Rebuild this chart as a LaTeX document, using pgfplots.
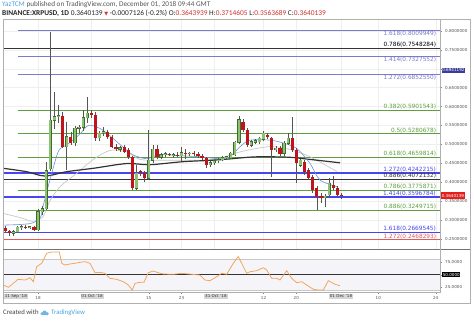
\documentclass[border=0pt]{standalone}
\usepackage{pgfplots}
\pgfplotsset{compat=1.18}
\usepackage{pgfplotstable}
\usepackage{fontspec}
\setmainfont{DejaVu Sans}
\newfontfamily\carlito{Carlito}
\newfontfamily\dejavu{DejaVu Sans}

\definecolor{fibpurple}{HTML}{7B7BCB}
\definecolor{fibgreen}{HTML}{5E9E40}
\definecolor{fibblue}{HTML}{4646F0}
\definecolor{fibred}{HTML}{E05A5A}
\definecolor{fibdark}{HTML}{333333}
\definecolor{upfill}{HTML}{8DC06F}
\definecolor{upline}{HTML}{3E6B2E}
\definecolor{downfill}{HTML}{BE151C}
\definecolor{wick}{HTML}{555555}
\definecolor{tvblue}{HTML}{4DA3DD}
\definecolor{rsiorange}{HTML}{F2A255}
\definecolor{frame}{HTML}{B0B0B0}
\definecolor{txtgrey}{HTML}{555555}
\definecolor{gridc}{HTML}{EFEFEF}
\definecolor{tickc}{HTML}{888888}
\definecolor{maBlue}{HTML}{6E93D6}
\definecolor{maGrey}{HTML}{C8C8C8}
\definecolor{boxgrey}{HTML}{D6D6D6}
\definecolor{pbox}{HTML}{3B3B9B}
\definecolor{rbox}{HTML}{E3211C}
\definecolor{band}{HTML}{F5F5F9}
\definecolor{hdred}{HTML}{D0312D}

\newcommand\fibfont{\fontsize{5.8}{6}\selectfont}
\newcommand\tickfont{\fontsize{4.1}{5}\selectfont}

\pgfplotstableread{
d O H L C
12 .264 .272 .257 .269
13 .269 .284 .265 .280
14 .280 .286 .274 .282
16 .280 .285 .275 .282
18 .274 .330 .270 .321
19 .321 .336 .312 .330
20 .330 .452 .325 .430
21 .435 .798 .430 .564
22 .564 .639 .540 .573
23 .573 .604 .556 .576
25 .494 .560 .432 .520
27 .504 .548 .496 .542
28 .542 .550 .530 .545
29 .545 .590 .535 .570
30 .570 .626 .556 .583
33 .517 .536 .508 .530
34 .530 .546 .522 .533
38 .487 .496 .480 .491
42 .384 .445 .378 .424
45 .410 .538 .405 .458
46 .458 .498 .450 .487
48 .466 .476 .460 .472
49 .472 .480 .466 .475
51 .471 .478 .465 .473
53 .470 .492 .455 .478
55 .475 .480 .468 .476
60 .446 .455 .440 .451
61 .451 .460 .446 .456
62 .456 .463 .450 .459
63 .459 .468 .455 .464
64 .464 .470 .458 .467
65 .463 .480 .460 .476
66 .472 .510 .468 .505
67 .505 .575 .500 .565
70 .498 .512 .492 .507
71 .505 .515 .500 .510
72 .507 .520 .502 .516
73 .513 .534 .508 .529
76 .485 .496 .480 .490
78 .476 .508 .470 .503
79 .503 .531 .498 .516
82 .445 .462 .440 .458
88 .358 .368 .335 .362
89 .366 .410 .360 .397
}\upc

\pgfplotstableread{
d O H L C
10 .279 .283 .266 .270
11 .270 .274 .258 .264
15 .282 .287 .276 .280
17 .282 .284 .270 .274
24 .576 .586 .490 .494
26 .520 .532 .498 .504
31 .583 .590 .570 .578
32 .578 .585 .510 .517
35 .533 .538 .515 .520
36 .520 .525 .490 .494
37 .494 .500 .482 .487
39 .494 .498 .476 .480
40 .485 .490 .462 .467
41 .467 .470 .380 .384
43 .428 .432 .415 .423
44 .425 .428 .401 .410
47 .487 .498 .460 .466
50 .475 .478 .468 .471
52 .473 .480 .467 .470
54 .478 .488 .462 .475
56 .476 .482 .470 .474
57 .474 .479 .465 .468
58 .468 .475 .458 .463
59 .463 .466 .437 .446
68 .560 .566 .533 .538
69 .538 .542 .494 .498
74 .525 .530 .515 .519
75 .516 .520 .414 .485
77 .490 .495 .470 .474
80 .516 .573 .480 .485
81 .485 .490 .398 .450
83 .454 .458 .420 .427
84 .432 .436 .405 .410
85 .414 .418 .370 .379
86 .383 .390 .326 .361
87 .362 .370 .345 .358
90 .392 .415 .380 .384
91 .383 .390 .362 .366
92 .3644 .3715 .3564 .3640
}\downc

\begin{document}
\begin{tikzpicture}
\useasboundingbox (0pt,0pt) rectangle (474pt,321pt);
\fill[white] (0pt,0pt) rectangle (474pt,321pt);

% ---------------- main price panel ----------------
\begin{axis}[name=main, at={(3pt,72pt)}, anchor=south west, scale only axis,
  width=437pt, height=230pt,
  xmin=9.46, xmax=116.05, ymin=0.2228, ymax=0.8318, clip=false,
  axis line style={draw=frame, line width=0.5pt},
  xtick={18,31,45,53,61,73,81,92,101,115}, xticklabels={}, xtick style={draw=none},
  xmajorgrids, ymajorgrids, grid style={draw=gridc, line width=0.4pt},
  ytick={0.25,0.30,0.35,0.40,0.45,0.50,0.55,0.60,0.65,0.70,0.75,0.80},
  yticklabels={0.2500000,0.3000000,0.3500000,0.4000000,0.4500000,0.5000000,0.5500000,0.6000000,0.6500000,,0.7500000,0.8000000},
  ytick pos=right, yticklabel pos=right, tick align=outside, major tick length=2pt,
  ytick style={draw=tickc, line width=0.4pt},
  yticklabel style={font=\tickfont, text=txtgrey, inner sep=0.5pt, xshift=2.5pt},
]
% Fibonacci levels
\addplot[fibpurple, line width=0.8pt, forget plot] coordinates {(13.12,0.8009949) (116.05,0.8009949)};
\addplot[fibdark, line width=0.8pt, forget plot] coordinates {(9.46,0.7548284) (116.05,0.7548284)};
\addplot[fibpurple, line width=0.8pt, forget plot] coordinates {(13.12,0.7327552) (116.05,0.7327552)};
\addplot[fibpurple, line width=0.8pt, forget plot] coordinates {(13.12,0.6852550) (116.05,0.6852550)};
\addplot[fibgreen, line width=0.8pt, forget plot] coordinates {(13.12,0.5901543) (116.05,0.5901543)};
\addplot[fibgreen, line width=0.8pt, forget plot] coordinates {(13.12,0.5280678) (116.05,0.5280678)};
\addplot[fibgreen, line width=0.8pt, forget plot] coordinates {(13.12,0.4659814) (116.05,0.4659814)};
\addplot[fibblue, line width=1.3pt, forget plot] coordinates {(9.46,0.4242215) (116.05,0.4242215)};
\addplot[fibdark, line width=0.8pt, forget plot] coordinates {(9.46,0.4072132) (116.05,0.4072132)};
\addplot[fibgreen, line width=0.8pt, forget plot] coordinates {(13.12,0.3775871) (116.05,0.3775871)};
\addplot[fibblue, line width=1.7pt, forget plot] coordinates {(9.46,0.3596784) (116.05,0.3596784)};
\addplot[fibgreen, line width=0.8pt, forget plot] coordinates {(13.12,0.3249715) (116.05,0.3249715)};
\addplot[fibblue, line width=1.3pt, forget plot] coordinates {(9.46,0.2669545) (116.05,0.2669545)};
\addplot[fibred, line width=0.9pt, forget plot] coordinates {(9.46,0.2468293) (116.05,0.2468293)};

\node[anchor=north east, inner sep=0.6pt, font=\fibfont, text=fibpurple] at (axis cs:115.3,0.8009949) {1.618(0.8009949)};
\node[anchor=south east, inner sep=0.6pt, font=\fibfont, text=black] at (axis cs:115.3,0.7548284) {0.786(0.7548284)};
\node[anchor=north east, inner sep=0.6pt, font=\fibfont, text=fibpurple] at (axis cs:115.3,0.7327552) {1.414(0.7327552)};
\node[anchor=north east, inner sep=0.6pt, font=\fibfont, text=fibpurple] at (axis cs:115.3,0.6852550) {1.272(0.6852550)};
\node[anchor=south east, inner sep=0.6pt, font=\fibfont, text=fibgreen] at (axis cs:115.3,0.5901543) {0.382(0.5901543)};
\node[anchor=south east, inner sep=0.6pt, font=\fibfont, text=fibgreen] at (axis cs:115.3,0.5280678) {0.5(0.5280678)};
\node[anchor=south east, inner sep=0.6pt, font=\fibfont, text=fibgreen] at (axis cs:115.3,0.4659814) {0.618(0.4659814)};
\node[anchor=south east, inner sep=0.8pt, font=\fibfont, text=fibblue] at (axis cs:115.3,0.4242215) {1.272(0.4242215)};
\node[anchor=south east, inner sep=0.6pt, font=\fibfont, text=fibdark] at (axis cs:115.3,0.4072132) {0.886(0.4072132)};
\node[anchor=south east, inner sep=0.6pt, font=\fibfont, text=fibgreen] at (axis cs:115.3,0.3775871) {0.786(0.3775871)};
\node[anchor=south east, inner sep=1pt, font=\fibfont, text=fibblue] at (axis cs:115.3,0.3596784) {1.414(0.3596784)};
\node[anchor=south east, inner sep=0.6pt, font=\fibfont, text=fibgreen] at (axis cs:115.3,0.3249715) {0.886(0.3249715)};
\node[anchor=south east, inner sep=0.8pt, font=\fibfont, text=fibblue] at (axis cs:115.3,0.2669545) {1.618(0.2669545)};
\node[anchor=south east, inner sep=0.6pt, font=\fibfont, text=fibred] at (axis cs:115.3,0.2468293) {1.272(0.2468293)};

% moving averages
\addplot[maGrey, line width=0.7pt, smooth, forget plot] coordinates {
(9.5,.317) (13.6,.306) (16.8,.296) (19.2,.308) (20.9,.350) (23.4,.388) (27.4,.423) (31.5,.460) (35.6,.484) (39.6,.480) (42.9,.460) (47.8,.458) (57.5,.458) (62,.462) (67.3,.480) (74.6,.494) (79.5,.486) (84.3,.467) (90.9,.428)};
\addplot[fibdark, line width=1.2pt, smooth, forget plot] coordinates {
(9.5,.4365) (15.2,.4275) (19.7,.416) (25,.4275) (31.5,.4365) (39.6,.449) (45.3,.446) (53.4,.454) (61.6,.4585) (69.7,.466) (73.8,.467) (79.5,.4656) (84.3,.460) (91.7,.451)};
\addplot[maBlue, line width=0.6pt, smooth, forget plot] coordinates {
(9.5,.286) (16,.290) (18.5,.305) (19.3,.339) (20.9,.405) (23,.482) (25,.498) (28.2,.527) (30.3,.550) (33.1,.542) (35.6,.522) (38.8,.492) (41.2,.472) (44.5,.462) (47.8,.473) (52,.470) (57.5,.467) (62,.462) (64.8,.467) (67.3,.494) (69.7,.511) (74.6,.511) (77.8,.5035) (81.1,.489) (84.3,.450) (86.8,.4055) (90.9,.388)};

% candles: wicks
\addplot[draw=none, mark=none, forget plot, error bars/.cd, y dir=plus, y explicit, error mark=none,
  error bar style={draw=wick, line width=0.55pt}] table[x=d, y=L, y error expr=\thisrow{H}-\thisrow{L}] {\upc};
\addplot[draw=none, mark=none, forget plot, error bars/.cd, y dir=plus, y explicit, error mark=none,
  error bar style={draw=wick, line width=0.55pt}] table[x=d, y=L, y error expr=\thisrow{H}-\thisrow{L}] {\downc};
% up bodies
\addplot[draw=none, mark=none, forget plot, error bars/.cd, y dir=plus, y explicit, error mark=none,
  error bar style={draw=upline, line width=3.2pt}] table[x=d, y expr=\thisrow{O}-0.0012, y error expr={max(\thisrow{C}-\thisrow{O},0.001)+0.0024}] {\upc};
\addplot[draw=none, mark=none, forget plot, error bars/.cd, y dir=plus, y explicit, error mark=none,
  error bar style={draw=upfill, line width=2.3pt}] table[x=d, y=O, y error expr={max(\thisrow{C}-\thisrow{O},0.001)}] {\upc};
% down bodies
\addplot[draw=none, mark=none, forget plot, error bars/.cd, y dir=plus, y explicit, error mark=none,
  error bar style={draw=downfill, line width=3.2pt}] table[x=d, y=C, y error expr={max(\thisrow{O}-\thisrow{C},0.0015)}] {\downc};
\end{axis}

% ---------------- RSI panel ----------------
\begin{axis}[name=rsi, at={(3pt,29pt)}, anchor=south west, scale only axis,
  width=437pt, height=43pt,
  xmin=9.46, xmax=116.05, ymin=15.9, ymax=100.7, clip=false,
  axis line style={draw=frame, line width=0.5pt},
  xtick={18,45,53,73,81,101,115}, xticklabels={18,15,23,12,20,10,24},
  xtick pos=bottom, ytick={25,50,75}, yticklabels={25.0000,,75.0000},
  ytick pos=right, yticklabel pos=right, tick align=outside, major tick length=2pt,
  tick style={draw=tickc, line width=0.4pt},
  ticklabel style={font=\tickfont, text=txtgrey, inner sep=0.5pt},
  yticklabel style={xshift=2.5pt},
  xticklabel style={yshift=-1.5pt},
]
\addplot[draw=none, fill=band, forget plot] coordinates {(9.46,20) (116.05,20) (116.05,80) (9.46,80)} -- cycle;
\addplot[maGrey, line width=0.6pt, forget plot] coordinates {(9.46,80) (116.05,80)};
\addplot[maGrey, line width=0.6pt, forget plot] coordinates {(9.46,20) (116.05,20)};
\addplot[fibdark, line width=1.1pt, forget plot] coordinates {(9.46,50) (116.05,50)};
\addplot[rsiorange, line width=0.75pt, forget plot] coordinates {
(9.54,29.7) (10.76,25.1) (11.98,33.0) (13.12,40.9) (14.83,39.5) (16.05,44.1) (16.85,36.2) (17.68,65.8)
(18.9,72.5) (20.12,92.2) (21.34,94.8) (23.2,94.8) (23.78,72.5) (24.59,69.1) (25.8,71.1) (27.02,72.5)
(28.24,74.5) (29.46,75.7) (30.68,72.5) (31.9,53.9) (33.12,54.7) (34.34,52.8) (35.56,42.9) (37.2,40.9)
(38.8,36.2) (40.02,29.7) (41.0,19.8) (41.66,33.0) (42.88,35.0) (43.85,35.0) (44.9,53.9) (46.12,57.3)
(47.34,53.9) (48.56,51.4) (51.0,50.8) (53.05,52.8) (55.49,50.8) (57.5,49.4) (58.73,39.5) (59.95,38.2)
(61.59,46.1) (62.8,52.8) (64.02,50.8) (65.63,72.5) (66.85,85.9) (68.9,52.8) (69.7,55.9) (71.34,57.9)
(72.95,63.8) (73.78,59.3) (75.0,42.9) (76.22,42.9) (77.02,39.5) (78.66,57.9) (79.88,42.9) (81.1,34.2)
(82.32,36.2) (83.54,29.7) (85.15,21.2) (86.37,19.8) (87.59,19.8) (88.8,38.2) (90.44,31.1) (91.66,28.3)};
% highlighted date labels
\node[anchor=north, yshift=-1.6pt, fill=boxgrey, inner sep=0.9pt, font=\tickfont, text=black!80] at (axis cs:12.6,15.9) {11 Sep '18};
\node[anchor=north, yshift=-1.6pt, fill=boxgrey, inner sep=0.9pt, font=\tickfont, text=black!80] at (axis cs:31.2,15.9) {01 Oct '18};
\node[anchor=north, yshift=-1.6pt, fill=boxgrey, inner sep=0.9pt, font=\tickfont, text=black!80] at (axis cs:61.4,15.9) {31 Oct '18};
\node[anchor=north, yshift=-1.6pt, fill=boxgrey, inner sep=0.9pt, font=\tickfont, text=black!80] at (axis cs:91.9,15.9) {01 Dec '18};
\end{axis}

% ---------------- frame and overlays ----------------
\draw[frame, line width=0.6pt] (3pt,18pt) rectangle (470pt,302pt);
\draw[black!55, line width=0.8pt] (3pt,72pt) -- (470pt,72pt);
\draw[frame, line width=0.6pt] (440pt,302pt) -- (440pt,29pt);
% right-axis value boxes
\node[fill=pbox, text=white, font=\tickfont, inner sep=0.6pt, minimum height=4.6pt, anchor=west] at (441.5pt,250.5pt) {0.6941192};
\node[fill=rbox, text=white, font=\tickfont, inner sep=0.6pt, minimum height=6.8pt, anchor=west] at (441pt,125.3pt) {0.3640139};
\node[fill=black, text=white, font=\tickfont, inner sep=0.6pt, minimum height=5pt, anchor=west] at (442pt,46.3pt) {50.0000};

% header
\node[anchor=base west, inner sep=0pt, font=\carlito\fontsize{7.2}{8}\selectfont, text=txtgrey] at (2pt,314pt)
  {\textcolor{tvblue}{YazTCM} published on TradingView.com, December 01, 2018 09:44 GMT};
\node[anchor=base west, inner sep=0pt, font=\carlito\fontsize{7.4}{8}\selectfont, text=black!85] at (2pt,305.5pt)
  {\textbf{BINANCE:XRPUSD, 1D} 0.3640139 {\dejavu\fontsize{5}{5}\selectfont\textcolor{hdred}{▼}} -0.0007126 (-0.2\%) O:\textcolor{hdred}{0.3643939} H:\textcolor{hdred}{0.3714605} L:\textcolor{hdred}{0.3563689} C:\textcolor{hdred}{0.3640139}};

% footer
\node[anchor=base west, inner sep=0pt, font=\carlito\fontsize{6.8}{7}\selectfont, text=black!75] at (3pt,6pt) {Created with};
\fill[tvblue!80] (42pt,7.2pt) circle (1.6pt) (44.6pt,8.4pt) circle (2.1pt) (47.2pt,7.2pt) circle (1.6pt);
\fill[tvblue!80] (42pt,5.6pt) rectangle (47.2pt,7.2pt);
\node[anchor=base west, inner sep=0pt, font=\carlito\fontsize{6.8}{7}\selectfont, text=tvblue] at (51pt,6pt) {TradingView};
\end{tikzpicture}
\end{document}
